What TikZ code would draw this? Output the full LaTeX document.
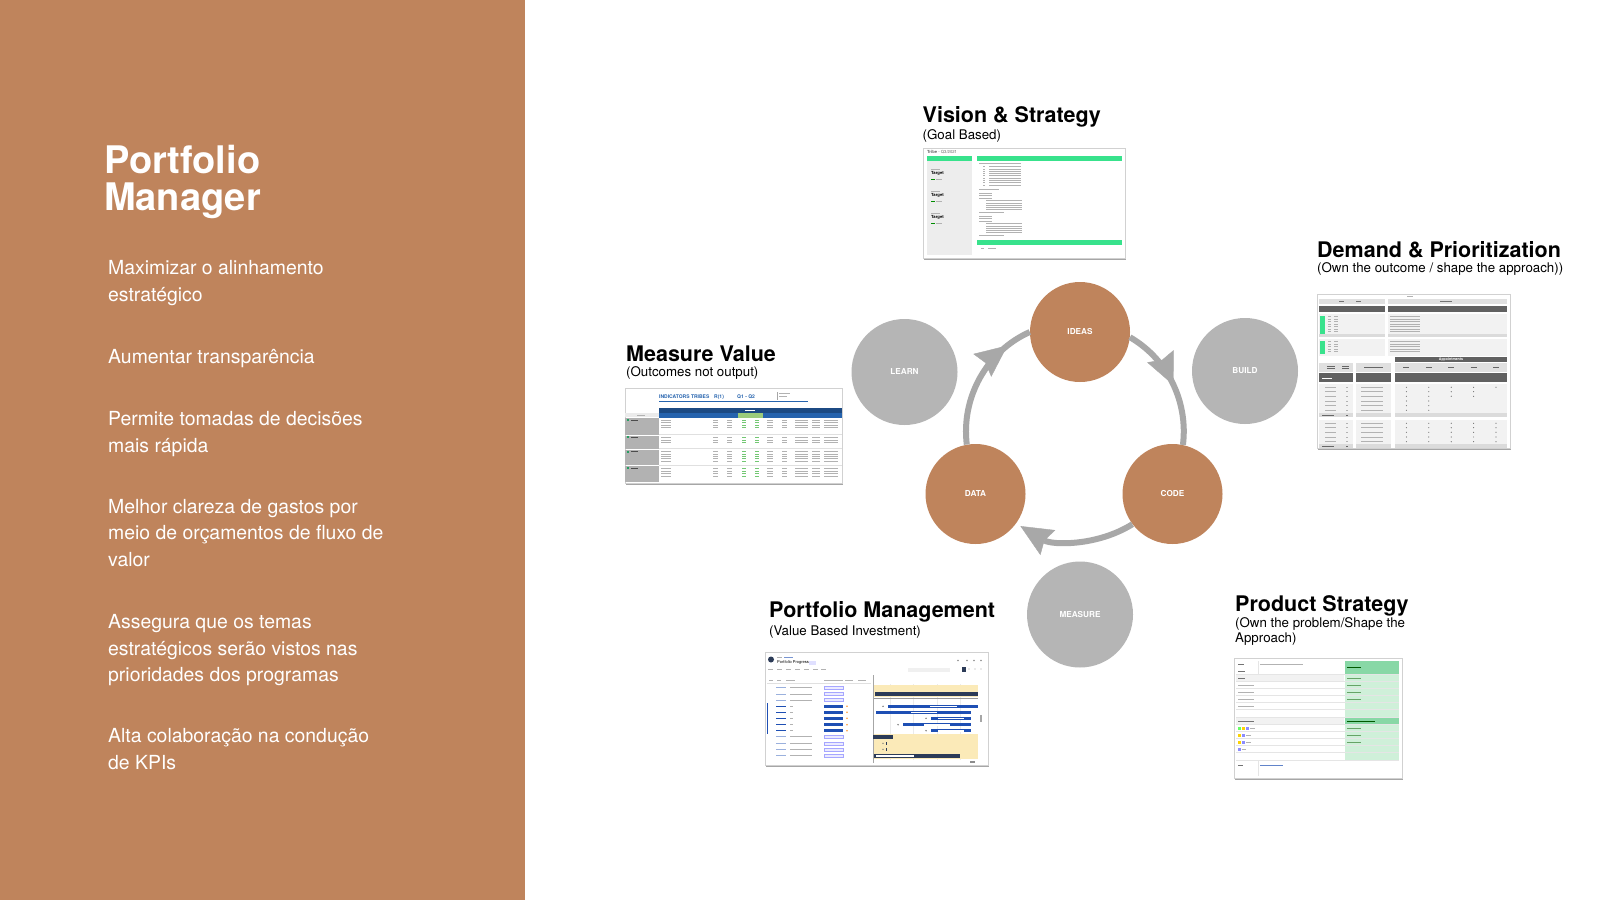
\documentclass[tikz,border=0pt]{standalone}
\usepackage{fontspec}
\setmainfont{TeX Gyre Heros}
\usetikzlibrary{arrows.meta,decorations.markings,shadows}
\tikzset{>=stealth}
\definecolor{clay}{HTML}{BF845C}
\definecolor{ringgray}{HTML}{A8A8A8}
\definecolor{phasegray}{HTML}{B5B5B5}
\definecolor{sheetgreen}{HTML}{38E28C}
\definecolor{sheetblue}{HTML}{2563AE}
\definecolor{barblue}{HTML}{1E4FB4}
\definecolor{navy}{HTML}{2C3B57}
\definecolor{paleyellow}{HTML}{FBEAB8}
\definecolor{palegreen}{HTML}{CFF0D9}
\definecolor{midgreen}{HTML}{88D8A6}
\definecolor{cellgreen}{HTML}{9BCB7C}

\begin{document}
\begin{tikzpicture}[x=1pt,y=-1pt,
  stage/.style={circle,fill=clay,minimum size=100pt,inner sep=0pt,text=white,font=\bfseries\fontsize{8.2}{10}\selectfont},
  phase/.style={circle,fill=phasegray,minimum size=106pt,inner sep=0pt,text=white,font=\bfseries\fontsize{8.2}{10}\selectfont},
  cycleline/.style={color=ringgray,line width=6pt},
  midtip/.style={postaction=decorate,decoration={markings,mark=at position #1 with {\arrow{Stealth[length=32pt,width=29pt,inset=4pt,line width=0.4pt,color=ringgray]}}}},
  heading/.style={anchor=base west,inner sep=0pt,font=\bfseries\fontsize{21.5}{24}\selectfont},
  caption/.style={anchor=base west,inner sep=0pt,align=left,font=\fontsize{13.3}{15}\selectfont},
  goaltext/.style={anchor=base west,inner sep=0pt,align=left,text=white,font=\fontsize{19.4}{26.5}\selectfont},
  shot/.style={draw=black!18,fill=white,line width=0.5pt,anchor=north west,inner sep=0pt,drop shadow={shadow xshift=0.6pt,shadow yshift=-1.8pt,fill=black,opacity=0.35}},
  minitext/.style={anchor=base west,inner sep=0pt,font=\fontsize{4.2}{5}\selectfont},
  sheettitle/.style={anchor=base west,inner sep=0pt,text=sheetblue,font=\bfseries\fontsize{5}{6}\selectfont},
  txt/.style={black!30,line width=0.6pt}]

\fill[white] (0,0) rectangle (1600,900);
\useasboundingbox (0,0) rectangle (1600,900);
\fill[clay] (0,0) rectangle (525,900);

\node[anchor=base west,inner sep=0pt,align=left,text=white,font=\bfseries\fontsize{38}{37}\selectfont] (pmtitle) at (104,210) {Portfolio\\Manager};
\node[goaltext] (goal1) at (108,301) {Maximizar o alinhamento\\estratégico};
\node[goaltext] (goal2) at (108,363) {Aumentar transparência};
\node[goaltext] (goal3) at (108,452) {Permite tomadas de decisões\\mais rápida};
\node[goaltext] (goal4) at (108,566) {Melhor clareza de gastos por\\meio de orçamentos de fluxo de\\valor};
\node[goaltext] (goal5) at (108,681.5) {Assegura que os temas\\estratégicos serão vistos nas\\prioridades dos programas};
\node[goaltext] (goal6) at (108,769.3) {Alta colaboração na condução\\de KPIs};

\node[stage] (ideas) at (1080,332) {IDEAS};
\node[stage] (code) at (1172.5,494) {CODE};
\node[stage] (data) at (975.5,494) {DATA};
\node[phase] (learn) at (904.5,372) {LEARN};
\node[phase] (build) at (1245,371) {BUILD};
\node[phase] (measure) at (1080,614.5) {MEASURE};
\draw[cycleline,midtip=0.52] (ideas.-6) to[out=-30,in=83,looseness=0.93] (code.78);
\draw[cycleline,-{Stealth[length=32pt,width=29pt,inset=4pt,line width=0.4pt]},shorten >=5pt] (code.217) to[out=-148,in=-31,looseness=0.92] (data.-36);
\draw[cycleline,midtip=0.81] (data.100) to[out=97,in=204,looseness=0.94] (ideas.180);

\node[heading] (visionhead) at (922.5,122.7) {Vision \& Strategy};
\node[caption] (visionsub) at (922.5,139.3) {(Goal Based)};
\node[heading] (demandhead) at (1317,257) {Demand \& Prioritization};
\node[caption] (demandsub) at (1317,272.7) {(Own the outcome / shape the approach))};
\node[heading] (valuehead) at (626,361.7) {Measure Value};
\node[caption] (valuesub) at (626,376) {(Outcomes not output)};
\node[heading] (portfoliohead) at (769,617.7) {Portfolio Management};
\node[caption] (portfoliosub) at (769,635) {(Value Based Investment)};
\node[heading] (producthead) at (1235,611) {Product Strategy};
\node[caption] (productsub) at (1235,642.5) {(Own the problem/Shape the\\Approach)};

% vision sheet
\node[shot,minimum width=202pt,minimum height=110pt] (visionsheet) at (923,148) {};
\node[minitext,text=black!60] (visiontribe) at (927,153.5) {\textbf{Tribe} - Q3/2021};
\fill[black!7] (927,157) rectangle (972,255);
\fill[sheetgreen] (927,156) rectangle (972,161);
\fill[sheetgreen] (977,156) rectangle (1122,161);
\fill[sheetgreen] (977,240) rectangle (1122,244.5);
\foreach \y in {174,196,218} {
  \draw[txt] (931,\y-5) -- (940,\y-5);
  \node[minitext,font=\bfseries\fontsize{4.2}{5}\selectfont] (target\y) at (931,\y) {Target};
  \draw[green!55!black,line width=0.6pt] (931,\y+5) -- (935,\y+5);
  \draw[txt] (936,\y+5) -- (942,\y+5);
}
\draw[txt] (979,163.5) -- (1021,163.5);
\foreach \y in {166.5,168.8,...,185.5} \draw[txt] (983,\y) -- (985,\y) (989,\y) -- (1021,\y);
\draw[txt] (979,189.5) -- (999,189.5);
\foreach \y in {193,195.4,197.8} \draw[txt] (979,\y) -- (992,\y);
\foreach \y in {200.5,202.8,...,210} \draw[txt] (986,\y) -- (1022,\y);
\draw[txt] (979,212.5) -- (1004,212.5);
\foreach \y in {216,218.4,220.8} \draw[txt] (979,\y) -- (992,\y);
\foreach \y in {223.5,225.8,...,233} \draw[txt] (986,\y) -- (1022,\y);
\draw[txt] (979,235.5) -- (1004,235.5);
\draw[txt] (981,248) -- (984,248) (988,248) -- (996,248);

% measure value sheet
\node[shot,minimum width=217pt,minimum height=95pt] (valuesheet) at (625,388) {};
\node[sheettitle] (valuetitle) at (659,398.5) {INDICATORS TRIBES};
\node[sheettitle] (valueround) at (714,398.5) {R(1)};
\node[sheettitle] (valuequarter) at (737,398.5) {Q1 - Q2};
\draw[sheetblue,line width=0.5pt] (659,401.5) -- (808,401.5);
\draw[black!35,line width=0.3pt] (777,392) -- (777,400);
\draw[txt] (779,393.5) -- (790,393.5) (779,396) -- (787,396);
\fill[sheetblue!75!black] (659,407.5) rectangle (842,412.5);
\fill[sheetblue] (659,412.5) rectangle (842,417.5);
\fill[cellgreen] (738,412.5) rectangle (763,417.5);
\draw[white,line width=0.5pt] (745,410) -- (755,410);
\fill[black!8] (625,412.5) rectangle (659,417);
\draw[txt] (637,414.8) -- (645,414.8);
\foreach \a/\b in {417.5/434.5,435.5/448.5,449.5/465,466/482} \fill[black!30] (625,\a) rectangle (659,\b);
\foreach \y in {420,437.3,451.7,468.3} {
  \fill[sheetgreen!70!black] (626.5,\y-1) rectangle (628.5,\y+1);
  \draw[black!70,line width=0.7pt] (631,\y) -- (638,\y);
}
\foreach \y in {434.5,448.5,465} \draw[black!12,line width=0.4pt] (659,\y) -- (842,\y);
\def\valuerows{420,422.7,425.3,427.7,437.3,440,442.7,451.7,454,456.3,458.7,461,468.3,471,473.3,476}
\foreach \y in \valuerows {
  \foreach \a/\b in {661/671,713/718,727/732,767/773,782/787,795/808,812/820,824/838}
    \draw[txt] (\a,\y) -- (\b,\y);
  \draw[green!60!black!55,line width=0.6pt] (742,\y) -- (746,\y) (755,\y) -- (759,\y);
}

% demand sheet
\node[shot,minimum width=193pt,minimum height=154pt] (demandsheet) at (1317,294) {};
\draw[txt] (1407,296.5) -- (1413,296.5);
\fill[black!12] (1319,298.5) rectangle (1385,304);
\fill[black!12] (1388,298.5) rectangle (1507,304);
\fill[black!62] (1319,306) rectangle (1385,312);
\fill[black!62] (1388,306) rectangle (1507,312);
\draw[black!55,line width=0.5pt] (1339,301) -- (1344,301) (1356,301) -- (1361,301) (1440,301) -- (1452,301);
\foreach \a/\b in {314/337,339/356} {
  \fill[black!5] (1319,\a) rectangle (1385,\b);
  \fill[black!5] (1388,\a) rectangle (1507,\b);
  \fill[sheetgreen] (1320,\a+1.5) rectangle (1325,\b-2.5);
}
\fill[black!14] (1319,334) rectangle (1385,337);
\fill[black!14] (1388,334) rectangle (1507,337);
\foreach \y in {316.5,319,321.5,324,326.5,329,331.5,341.5,344,346.5,349,351.5}
  \draw[txt] (1328,\y) -- (1331,\y) (1334,\y) -- (1338,\y) (1390,\y) -- (1420,\y);
\fill[black!62] (1395,356.5) rectangle (1507,362);
\node[minitext,anchor=center,text=white,font=\bfseries\fontsize{3.6}{4}\selectfont] (appointments) at (1451,359.3) {Appointments};
\foreach \a/\b in {1319/1353,1356/1391,1395/1507} {
  \fill[black!12] (\a,362.5) rectangle (\b,371.5);
  \fill[black!62] (\a,373) rectangle (\b,382);
  \fill[black!5] (\a,384) rectangle (\b,417);
  \fill[black!14] (\a,413) rectangle (\b,417);
  \fill[black!5] (\a,419.5) rectangle (\b,448);
  \fill[black!14] (\a,444) rectangle (\b,448);
}
\draw[black!60,line width=0.6pt] (1327,366) -- (1335,366) (1327,368.5) -- (1335,368.5) (1342,366) -- (1349,366) (1342,368.5) -- (1349,368.5) (1364,367) -- (1383,367);
\foreach \x in {1406.4,1428.8,1451.2,1473.6,1496} \draw[black!60,line width=0.6pt] (\x-3,367) -- (\x+3,367);
\draw[white,line width=0.6pt] (1322,378) -- (1332,378);
\foreach \y in {387.3,391.7,396.3,401,405.7,410.3,423.3,427.7,432.3,437,441.7}
  \draw[txt] (1325,\y) -- (1336,\y) (1346,\y) -- (1348,\y) (1361,\y) -- (1383,\y);
\foreach \y/\n in {387.3/5,391.7/4,396.3/4,401/2,405.7/2,410.3/2,423.3/5,427.7/5,432.3/5,437/5,441.7/5}
  \foreach \i in {1,...,\n} \fill[black!55] (1384+22.4*\i,\y) circle[radius=0.6pt];
\draw[black!60,line width=0.6pt] (1322,415) -- (1334,415) (1346,415) -- (1348,415) (1322,446) -- (1334,446) (1346,446) -- (1348,446);

% portfolio sheet
\node[shot,minimum width=223pt,minimum height=113pt] (portfoliosheet) at (765,652) {};
\fill[navy] (771,659.5) circle[radius=3pt];
\draw[txt] (777,657) -- (782,657);
\draw[barblue!60,line width=0.6pt] (784,657) -- (793,657);
\node[minitext,font=\fontsize{4}{5}\selectfont] (progresstitle) at (777,663.8) {Portfolio Progress};
\fill[blue!12] (809,660.5) rectangle (816,664.5);
\foreach \x in {768,777,786,795,804,813,821} \draw[txt] (\x,669.5) -- (\x+5,669.5);
\fill[black!6] (908,667.5) rectangle (950,671.5);
\fill[navy] (962,666.5) rectangle (966,671.5);
\foreach \x in {958,967,974,981} \fill[black!45] (\x,660.5) circle[radius=0.8pt];
\foreach \x in {969,975,981} \fill[black!35] (\x,669) circle[radius=0.7pt];
\draw[txt] (769,680.5) -- (773,680.5) (777,680.5) -- (781,680.5) (786,680.5) -- (795,680.5) (824,680.5) -- (843,680.5) (845,680.5) -- (853,680.5) (858,680.5) -- (866,680.5);
\draw[black!12,line width=0.3pt] (767,683.5) -- (871,683.5);
\foreach \y in {687.7,694,700,736.7,743.3,749.3,755.7} {
  \draw[barblue!45,line width=0.6pt] (776,\y) -- (786,\y);
  \draw[txt] (790,\y) -- (812,\y);
  \filldraw[fill=blue!8,draw=blue!35,line width=0.3pt] (824,\y-1.4) rectangle (843,\y+1.4);
}
\foreach \y in {706.3,712.3,718.3,724.7,730.7} {
  \draw[barblue,line width=0.6pt] (776,\y) -- (786,\y);
  \draw[txt] (790,\y) -- (793,\y);
  \fill[barblue] (824,\y-1.4) rectangle (843,\y+1.4);
  \fill[orange!80] (847,\y) circle[radius=0.9pt];
}
\draw[barblue,line width=0.8pt] (767,703) -- (767,734);
\draw[black!35,line width=0.4pt] (873,675) -- (873,763);
\foreach \x in {890,913,937,960} \draw[black!8,line width=0.3pt] (\x,684) -- (\x,760);
\fill[paleyellow] (874,685) rectangle (978,697);
\fill[navy] (875,692) rectangle (978,696);
\draw[black!40,line width=0.4pt] (874,698.5) -- (978,698.5);
\foreach \a/\b/\c/\d/\y in {888/978/930/957/706.3,876/971/911/937/712.3,931/971/938/964/718.3,903/971/924/950/724.7,931/971/938/964/730.7} {
  \fill[barblue] (\a,\y-1.7) rectangle (\b,\y+1.7);
  \fill[white] (\c,\y-0.8) rectangle (\d,\y+0.8);
}
\foreach \x/\y in {883/706.3,926/718.3,898/724.7,926/730.7} \fill[black!55] (\x,\y) circle[radius=0.8pt];
\fill[paleyellow] (874,734) rectangle (978,759);
\fill[navy] (873,734.5) rectangle (893,738.5);
\foreach \y in {743.3,749.3} {
  \fill[black!55] (883,\y) circle[radius=0.7pt];
  \fill[navy] (886,\y-1.5) rectangle (887,\y+1.5);
}
\fill[navy] (874,754) rectangle (960,757.5);
\fill[white] (876,755) rectangle (914,756.5);
\fill[black!35] (980,715) rectangle (982,722);
\fill[black!45] (970,761) rectangle (975,763);

% product sheet
\node[shot,minimum width=168pt,minimum height=120pt] (productsheet) at (1234,658) {};
\fill[palegreen] (1345,661) rectangle (1399,760);
\fill[midgreen] (1345,661) rectangle (1399,674);
\fill[midgreen] (1345,717.5) rectangle (1399,724);
\fill[black!5] (1236,675) rectangle (1344,681);
\fill[black!5] (1236,717.5) rectangle (1344,724);
\foreach \y in {674.5,681.5,688.5,695.5,702.5,709.5,717,724.5,731.5,738.5,745.5,752.5,760.5}
  \draw[black!10,line width=0.3pt] (1236,\y) -- (1399,\y);
\draw[black!10,line width=0.3pt] (1258,661) -- (1258,674.5) (1258,760.5) -- (1258,776);
\draw[black!55,line width=0.6pt] (1238,664.5) -- (1244,664.5) (1238,671) -- (1245,671) (1238,678) -- (1245,678) (1238,721) -- (1254,721) (1238,765) -- (1243,765);
\draw[txt] (1260,664.5) -- (1303,664.5);
\foreach \y in {685,692,699,706} \draw[txt] (1238,\y) -- (1254,\y);
\draw[green!35!black,line width=0.6pt] (1347,667) -- (1361,667) (1347,721) -- (1375,721);
\foreach \y in {678,685,692,699,728.5,735.5,742.5} \draw[green!40!black!60,line width=0.6pt] (1347,\y) -- (1361,\y);
\fill[green!60] (1238,727.3) rectangle (1240.5,729.7);
\fill[yellow!70!orange] (1242,727.3) rectangle (1244.5,729.7);
\fill[blue!45] (1246,727.3) rectangle (1248.5,729.7);
\draw[txt] (1250,728.5) -- (1255,728.5);
\fill[yellow!70!orange] (1238,734.3) rectangle (1240.5,736.7);
\fill[blue!45] (1242,734.3) rectangle (1244.5,736.7);
\draw[txt] (1246,735.5) -- (1251,735.5);
\fill[yellow!70!orange] (1238,741.3) rectangle (1240.5,743.7);
\fill[blue!45] (1242,741.3) rectangle (1244.5,743.7);
\draw[txt] (1246,742.5) -- (1251,742.5);
\fill[blue!45] (1238,748.3) rectangle (1240.5,750.7);
\draw[txt] (1242,749.5) -- (1246,749.5);
\draw[barblue!70,line width=0.6pt] (1260,765) -- (1283,765);
\end{tikzpicture}
\end{document}
